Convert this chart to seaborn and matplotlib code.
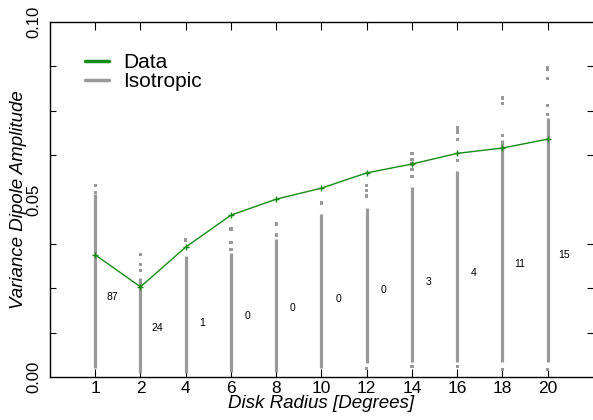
import numpy as np
import pandas as pd
import matplotlib
matplotlib.use("Agg")
import matplotlib.pyplot as plt
import seaborn as sns
from matplotlib.lines import Line2D

# disk radii (categories) and measured variance dipole amplitude
radii = [1, 2, 4, 6, 8, 10, 12, 14, 16, 18, 20]
data_amp = [0.0344, 0.0254, 0.0366, 0.0456, 0.0501, 0.0532,
            0.0575, 0.0600, 0.0630, 0.0645, 0.0670]

# isotropic simulations: dense range per radius
iso_low = [0.0025, 0.0010, 0.0010, 0.0015, 0.0014, 0.0025,
           0.0040, 0.0042, 0.0042, 0.0042, 0.0042]
iso_high = [0.0515, 0.0280, 0.0340, 0.0350, 0.0390, 0.0460,
            0.0475, 0.0535, 0.0580, 0.0667, 0.0730]
# isolated isotropic values outside the dense range
iso_outliers = {
    1: [0.0540, 0.0520],
    2: [0.0346, 0.0316, 0.0300],
    4: [0.0386],
    6: [0.0417, 0.0380, 0.0358],
    8: [0.0431, 0.0400],
    10: [0.0490],
    12: [0.0540, 0.0525, 0.0510, 0.0025],
    14: [0.0630, 0.0612, 0.0600, 0.0585, 0.0565, 0.0030],
    16: [0.0704, 0.0697, 0.0690, 0.0670, 0.0610, 0.0030],
    18: [0.0786, 0.0770, 0.0680, 0.0020],
    20: [0.0873, 0.0867, 0.0840, 0.0766, 0.0740, 0.0020],
}
# number of isotropic realisations above the data
counts = [87, 24, 1, 0, 0, 0, 0, 3, 4, 11, 15]
count_y = [0.0225, 0.0138, 0.0152, 0.0172, 0.0194, 0.0220,
           0.0245, 0.0268, 0.0293, 0.0318, 0.0344]

sns.set_style("ticks")
plt.rcParams['font.family'] = ['Liberation Sans', 'DejaVu Sans']
plt.rcParams['text.color'] = 'black'
plt.rcParams['axes.labelcolor'] = 'black'
plt.rcParams['xtick.color'] = 'black'
plt.rcParams['ytick.color'] = 'black'

pos = np.arange(len(radii))
df = pd.DataFrame({"pos": pos, "amp": data_amp})
out_df = pd.DataFrame(
    [(radii.index(r), v) for r, vals in iso_outliers.items() for v in vals],
    columns=["pos", "amp"])

fig = plt.figure(figsize=(5.93, 4.2), dpi=100)
ax = fig.add_axes([0.0843, 0.1024, 0.9157, 0.8452])

gray = "#999999"
green = "#158c15"
ax.vlines(pos, iso_low, iso_high, color=gray, lw=2.3, zorder=2)
sns.scatterplot(data=out_df, x="pos", y="amp", marker="s", s=5,
                color=gray, edgecolor="none", ax=ax, zorder=2)
sns.lineplot(data=df, x="pos", y="amp", color=green, lw=1.0,
             marker="+", markersize=4, markeredgewidth=1.0,
             markeredgecolor=green, ax=ax, zorder=3)

for p, c, y in zip(pos, counts, count_y):
    ax.text(p + 0.37, y, str(c), fontsize=7.5, ha="center", va="center")

ax.set_xlim(-1, 11)
ax.set_ylim(0, 0.1)
ax.set_xticks(pos)
ax.set_xticklabels([str(r) for r in radii], fontsize=12.5)
ax.set_yticks([0, 0.05, 0.1])
ax.set_yticklabels(["0.00", "0.05", "0.10"], fontsize=12, rotation=90,
                   va="center")
ax.set_yticks(np.arange(0, 0.1, 0.0125), minor=True)
ax.tick_params(axis="x", direction="in", top=True, length=6, width=0.8,
               pad=3)
ax.tick_params(axis="y", which="major", direction="in", length=0, pad=6)
ax.tick_params(axis="y", which="minor", direction="in", left=True,
               right=True, length=4, width=0.8)
ax.spines["right"].set_visible(False)
for s in ["left", "top", "bottom"]:
    ax.spines[s].set_linewidth(1.0)
    ax.spines[s].set_color("black")

ax.set_xlabel("Disk Radius [Degrees]", fontsize=13.5, style="italic",
              labelpad=-1)
ax.set_ylabel("Variance Dipole Amplitude", fontsize=13.5, style="italic",
              labelpad=0)

handles = [Line2D([], [], color=green, lw=2.5),
           Line2D([], [], color=gray, lw=2.5)]
ax.legend(handles, ["Data", "Isotropic"], loc="upper left", frameon=False,
          fontsize=15, handlelength=1.15, handletextpad=0.7,
          labelspacing=0.0, bbox_to_anchor=(0.03, 0.965))

fig.savefig("out.png", dpi=100)
